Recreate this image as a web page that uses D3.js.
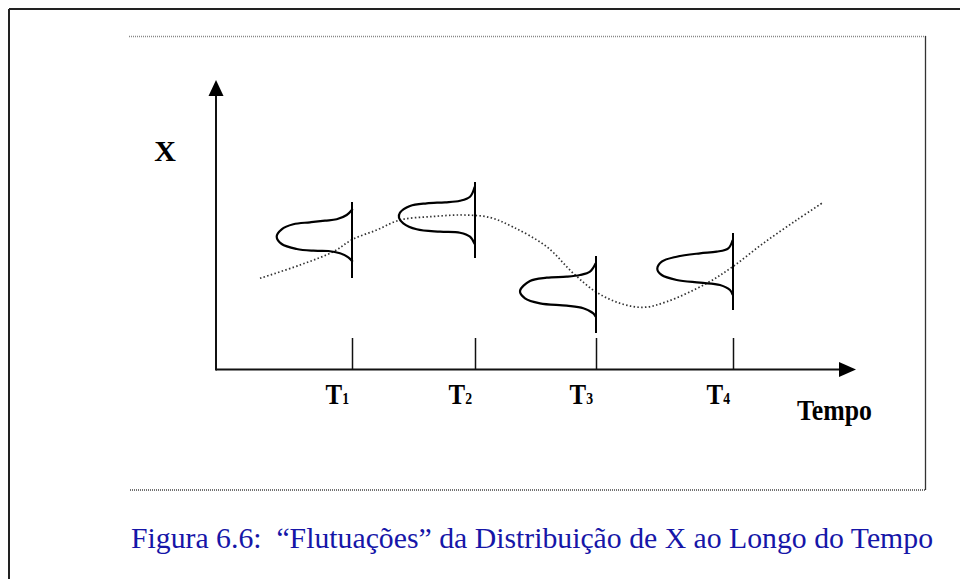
<!DOCTYPE html>
<html>
<head>
<meta charset="utf-8">
<script src="https://cdn.jsdelivr.net/npm/d3@7"></script>
<style>
  html, body { margin: 0; padding: 0; background: #fff; }
  svg { display: block; }
</style>
</head>
<body>
<svg id="chart" width="960" height="579"></svg>
<script>
// time positions of the four observations and their labels
const tickTimes = [13.6, 25.9, 38.0, 51.7];
const tickSubs = ["1", "2", "3", "4"];
const tickTop = 3.15;

// dotted trend of X over time (time, X)
const trend = [
  [4.4, 9.12], [8.4, 10.45], [11.73, 11.78], [13.67, 13.02], [16.07, 13.95],
  [18.4, 14.95], [21.7, 15.3], [24.7, 15.45], [27.4, 15.2], [29.7, 14.25],
  [33.07, 12.28], [35.73, 9.62], [37.97, 7.78], [40.4, 6.62], [42.73, 6.22],
  [45.07, 6.78], [49.07, 8.62], [51.67, 10.28], [54.73, 12.62], [58.07, 14.95],
  [60.73, 16.72]
];

// vertical line extent (X) at each observation
const lineTop = [16.75, 18.75, 11.35, 13.65];
const lineBottom = [9.15, 11.15, 3.65, 5.95];

// sideways distribution outlines (time, X)
const dist1 = [
  [13.67, 16.05], [13.07, 15.45], [12.07, 15.02], [10.9, 14.88], [9.4, 14.72],
  [7.73, 14.52], [6.57, 14.02], [6.07, 13.28], [6.57, 12.55], [8.07, 12.05],
  [9.73, 11.88], [11.23, 11.85], [12.4, 11.62], [13.23, 11.22], [13.67, 10.78]
];
const dist2 = [
  [25.87, 18.28], [25.4, 17.28], [24.4, 16.88], [22.9, 16.72], [21.07, 16.62],
  [19.4, 16.35], [18.4, 15.68], [18.3, 15.18], [18.73, 14.62], [20.07, 14.02],
  [22.4, 13.78], [24.4, 13.68], [25.4, 13.28], [25.87, 12.55]
];
const dist3 = [
  [37.97, 10.62], [37.4, 9.78], [36.4, 9.45], [35.07, 9.28], [33.07, 9.18],
  [31.4, 8.85], [30.4, 7.85], [30.9, 7.12], [32.4, 6.62], [35.07, 6.38],
  [36.73, 6.12], [37.73, 5.62], [37.97, 5.28]
];
const dist4 = [
  [51.67, 12.95], [51.23, 12.12], [50.07, 11.78], [48.4, 11.62], [46.07, 11.28],
  [44.57, 10.78], [44.13, 10.05], [44.57, 9.45], [46.07, 8.95], [48.4, 8.68],
  [50.4, 8.45], [51.4, 7.95], [51.67, 7.45]
];
const dists = [dist1, dist2, dist3, dist4];

const caption = "Figura 6.6:  \u201CFlutua\u00E7\u00F5es\u201D da Distribui\u00E7\u00E3o de X ao Longo do Tempo";

const svg = d3.select("#chart");
const serif = "'Liberation Serif', 'Times New Roman', serif";

// outer frame (left + top only visible)
svg.append("line").attr("x1", 9).attr("y1", 9).attr("x2", 960).attr("y2", 9)
  .attr("stroke", "#222").attr("stroke-width", 2);
svg.append("line").attr("x1", 9).attr("y1", 9).attr("x2", 9).attr("y2", 579)
  .attr("stroke", "#222").attr("stroke-width", 2);

// inner box
svg.append("line").attr("x1", 129).attr("y1", 36.5).attr("x2", 926).attr("y2", 36.5)
  .attr("stroke", "#888").attr("stroke-width", 1.5).attr("stroke-dasharray", "1,1");
svg.append("line").attr("x1", 130).attr("y1", 490).attr("x2", 926).attr("y2", 490)
  .attr("stroke", "#444").attr("stroke-width", 1.5).attr("stroke-dasharray", "1,1");
svg.append("line").attr("x1", 925.5).attr("y1", 36).attr("x2", 925.5).attr("y2", 490)
  .attr("stroke", "#333").attr("stroke-width", 1.3);

const x = d3.scaleLinear().domain([0, 64]).range([216, 856]);
const y = d3.scaleLinear().domain([0, 28.95]).range([369.5, 80]);

// x axis with ticks pointing up
const xAxis = d3.axisBottom(x)
  .tickValues(tickTimes)
  .tickSize(-(y(0) - y(tickTop)))
  .tickSizeOuter(0)
  .tickFormat("");
const gx = svg.append("g").attr("transform", `translate(0,${y(0)})`).call(xAxis);
gx.select(".domain").attr("stroke", "#111").attr("stroke-width", 2)
  .attr("d", `M${x(0)},0H${x(64) - 10}`);
gx.selectAll(".tick line").attr("stroke", "#111").attr("stroke-width", 1.5);

// y axis
const yAxis = d3.axisLeft(y).tickValues([]).tickSizeOuter(0);
const gy = svg.append("g").attr("transform", `translate(${x(0)},0)`).call(yAxis);
gy.select(".domain").attr("stroke", "#111").attr("stroke-width", 2)
  .attr("d", `M0,${y(0) + 1}V${y(28.95) + 10}`);

// arrow heads
svg.append("path")
  .attr("d", `M${x(0)},${y(28.95)}L${x(0) - 7.5},${y(28.95) + 16}L${x(0) + 7.5},${y(28.95) + 16}Z`)
  .attr("fill", "#000");
svg.append("path")
  .attr("d", `M${x(64)},${y(0)}L${x(64) - 17},${y(0) - 7.5}L${x(64) - 17},${y(0) + 7.5}Z`)
  .attr("fill", "#000");

// tick labels T1..T4 (narrow, tall serif like the original)
tickTimes.forEach((t, i) => {
  const txt = svg.append("text")
    .attr("transform", `translate(${x(t) - 3},404) scale(0.86,1)`)
    .attr("text-anchor", "end")
    .attr("font-family", serif).attr("font-weight", "bold").attr("fill", "#000");
  txt.append("tspan").attr("font-size", 29).text("T");
  txt.append("tspan").attr("font-size", 16).text(tickSubs[i]);
});

svg.append("text").attr("transform", "translate(872,420) scale(0.86,1)")
  .attr("text-anchor", "end")
  .attr("font-family", serif).attr("font-weight", "bold").attr("font-size", 30)
  .text("Tempo");

svg.append("text").attr("x", 165).attr("y", 161).attr("text-anchor", "middle")
  .attr("font-family", serif).attr("font-weight", "bold").attr("font-size", 30)
  .text("X");

// trend line
const line = d3.line().x(d => x(d[0])).y(d => y(d[1])).curve(d3.curveCatmullRom.alpha(0.5));
svg.append("path").datum(trend).attr("d", line)
  .attr("fill", "none").attr("stroke", "#333").attr("stroke-width", 1.7)
  .attr("stroke-dasharray", "1.5,2.3");

// vertical lines through each distribution
svg.selectAll("line.obs").data(tickTimes).enter().append("line")
  .attr("class", "obs")
  .attr("x1", d => x(d)).attr("x2", d => x(d))
  .attr("y1", (d, i) => y(lineTop[i])).attr("y2", (d, i) => y(lineBottom[i]))
  .attr("stroke", "#000").attr("stroke-width", 2);

// distribution outlines
svg.selectAll("path.dist").data(dists).enter().append("path")
  .attr("class", "dist")
  .attr("d", line)
  .attr("fill", "none").attr("stroke", "#000").attr("stroke-width", 2.2);

// caption
svg.append("text").attr("x", 131).attr("y", 548)
  .attr("font-family", serif).attr("font-size", 30).attr("fill", "#1616a8")
  .attr("textLength", 802).attr("lengthAdjust", "spacingAndGlyphs")
  .attr("xml:space", "preserve").style("white-space", "pre")
  .text(caption);
</script>
</body>
</html>
